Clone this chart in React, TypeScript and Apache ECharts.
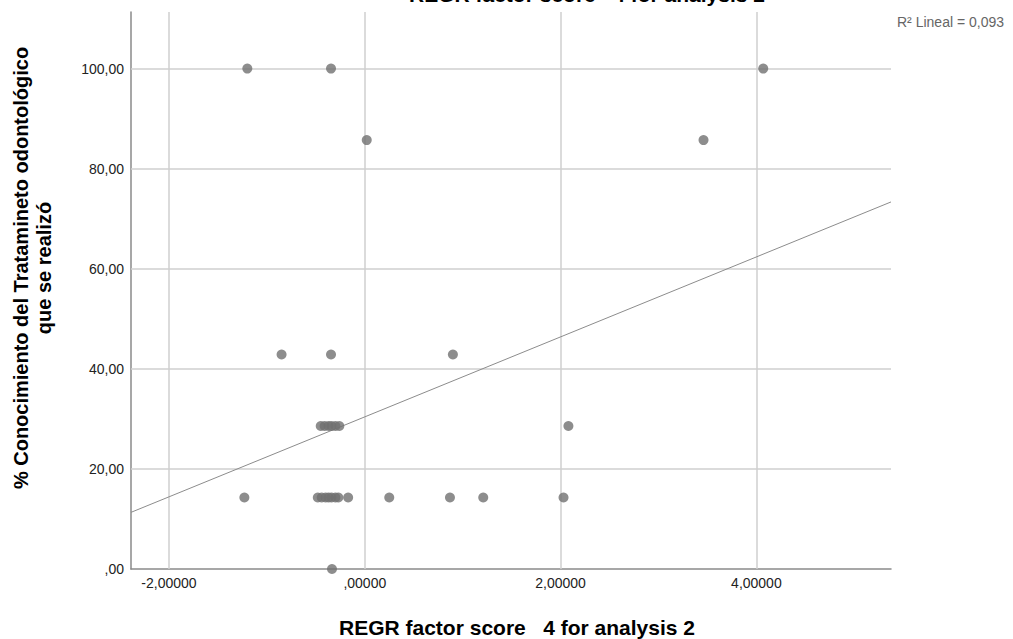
import React, { useEffect, useRef } from "react";
import * as echarts from "echarts";

// Data
const xValues = [
  -1.2, -0.345, 4.07,
  0.02, 3.46,
  -0.85, -0.345, 0.9,
  -0.45, -0.41, -0.37, -0.34, -0.3, -0.26, 2.08,
  -1.23, -0.48, -0.44, -0.4, -0.37, -0.34, -0.3, -0.27, -0.17, 0.25, 0.87, 1.21, 2.03,
  -0.335,
];
const yValues = [
  100, 100, 100,
  85.71, 85.71,
  42.86, 42.86, 42.86,
  28.57, 28.57, 28.57, 28.57, 28.57, 28.57, 28.57,
  14.29, 14.29, 14.29, 14.29, 14.29, 14.29, 14.29, 14.29, 14.29, 14.29, 14.29, 14.29, 14.29,
  0,
];
const xTicks = [-2, 0, 2, 4];
const yTicks = [0, 20, 40, 60, 80, 100];
const X_MIN = -2.388;
const X_MAX = 5.375;
const Y_MIN = 0;
const Y_MAX = 111.3;
const FIT_INTERCEPT = 30.4;
const FIT_SLOPE = 7.99;
const R2_TEXT = "R\u00b2 Lineal = 0,093";
const X_TITLE = "REGR factor score   4 for analysis 2";
const Y_TITLE_1 = "% Conocimiento del Tratamineto odontológico";
const Y_TITLE_2 = "que se realizó";

function fmt(v: number, digits: number): string {
  const s = Math.abs(v).toFixed(digits).replace(".", ",");
  const t = Math.abs(v) < 1 ? s.replace(/^0/, "") : s;
  return (v < 0 ? "-" : "") + t;
}

const FONT = "'Liberation Sans', Arial, sans-serif";

export default function App() {
  const ref = useRef<HTMLDivElement>(null);
  useEffect(() => {
    if (!ref.current) return;
    const chart = echarts.init(ref.current, null, { renderer: "svg" });
    const points = xValues.map((x, i) => [x, yValues[i]]);
    const fit = [
      [X_MIN, FIT_INTERCEPT + FIT_SLOPE * X_MIN],
      [X_MAX, FIT_INTERCEPT + FIT_SLOPE * X_MAX],
    ];
    const gridLines = [
      ...xTicks.map((v) => ({ xAxis: v })),
      ...yTicks.filter((v) => v !== 0).map((v) => ({ yAxis: v })),
    ];
    chart.setOption({
      animation: false,
      backgroundColor: "#ffffff",
      grid: { left: 131, right: 122, top: 12, bottom: 70, containLabel: false },
      xAxis: {
        type: "value",
        min: X_MIN,
        max: X_MAX,
        splitLine: { show: false },
        axisTick: { show: false },
        axisLine: { show: true, onZero: false, lineStyle: { color: "#8a8a8a", width: 1.5 } },
        axisLabel: {
          customValues: xTicks,
          formatter: (v: number) => fmt(v, 5),
          color: "#222",
          fontSize: 14,
          fontFamily: FONT,
          margin: 7,
        },
      },
      yAxis: {
        type: "value",
        min: Y_MIN,
        max: Y_MAX,
        splitLine: { show: false },
        axisTick: { show: false },
        axisLine: { show: true, onZero: false, lineStyle: { color: "#8a8a8a", width: 1.5 } },
        axisLabel: {
          customValues: yTicks,
          formatter: (v: number) => fmt(v, 2),
          color: "#222",
          fontSize: 14,
          fontFamily: FONT,
          margin: 7,
        },
      },
      series: [
        {
          type: "scatter",
          data: points,
          symbolSize: 10,
          itemStyle: { color: "#707070" },
          z: 3,
          markLine: {
            silent: true,
            symbol: "none",
            label: { show: false },
            lineStyle: { color: "#cfcfcf", width: 1.5, type: "solid" },
            data: gridLines,
            z: 1,
          },
        },
        {
          type: "line",
          data: fit,
          symbol: "none",
          lineStyle: { color: "#8c8c8c", width: 1 },
          z: 2,
        },
      ],
      graphic: [
        {
          type: "text",
          x: 587,
          y: 5,
          style: {
            text: X_TITLE,
            font: `bold 21px ${FONT}`,
            fill: "#000",
            textAlign: "center",
            textVerticalAlign: "bottom",
          },
        },
        {
          type: "text",
          x: 517,
          y: 627,
          style: {
            text: X_TITLE,
            font: `bold 21px ${FONT}`,
            fill: "#000",
            textAlign: "center",
            textVerticalAlign: "middle",
          },
        },
        {
          type: "text",
          x: 21,
          y: 268,
          rotation: Math.PI / 2,
          style: {
            text: Y_TITLE_1,
            font: `bold 20px ${FONT}`,
            fill: "#000",
            textAlign: "center",
            textVerticalAlign: "middle",
          },
        },
        {
          type: "text",
          x: 44,
          y: 268,
          rotation: Math.PI / 2,
          style: {
            text: Y_TITLE_2,
            font: `bold 20px ${FONT}`,
            fill: "#000",
            textAlign: "center",
            textVerticalAlign: "middle",
          },
        },
        {
          type: "text",
          x: 897,
          y: 22,
          style: {
            text: R2_TEXT,
            font: `14px ${FONT}`,
            fill: "#666",
            textAlign: "left",
            textVerticalAlign: "middle",
          },
        },
      ],
    });
    return () => chart.dispose();
  }, []);
  return (
    <div
      ref={ref}
      style={{ position: "absolute", left: 0, top: 0, width: 1013, height: 639 }}
    />
  );
}
